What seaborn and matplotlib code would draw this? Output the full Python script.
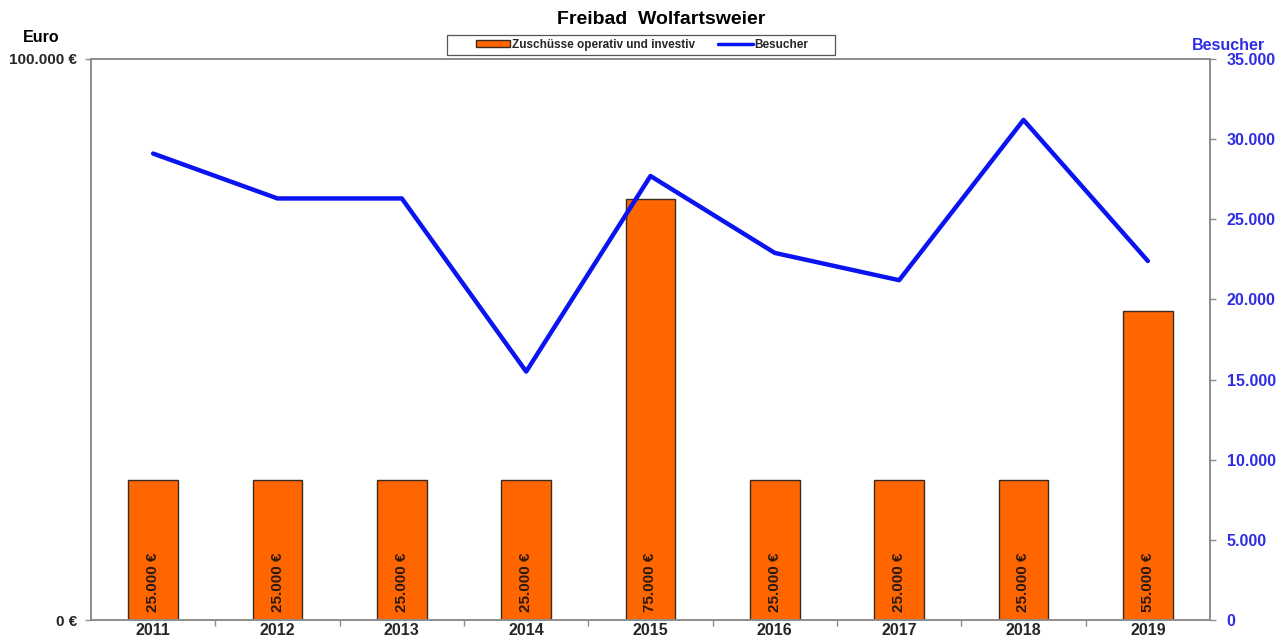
import matplotlib
matplotlib.use("Agg")
import matplotlib.pyplot as plt
import seaborn as sns
import numpy as np
import pandas as pd
from matplotlib.ticker import FixedLocator, FuncFormatter
from matplotlib.lines import Line2D
from matplotlib.patches import Patch, Rectangle

years = ["2011", "2012", "2013", "2014", "2015", "2016", "2017", "2018", "2019"]
zuschuesse = [25000, 25000, 25000, 25000, 75000, 25000, 25000, 25000, 55000]
besucher = [29100, 26300, 26300, 15500, 27700, 22900, 21200, 31200, 22400]
left_ticks = [0, 100000]
right_ticks = [0, 5000, 10000, 15000, 20000, 25000, 30000, 35000]

title = "Freibad  Wolfartsweier"
bar_label = "Zuschüsse operativ und investiv"
line_label = "Besucher"

sns.set_theme(style="white")
plt.rcParams['font.family'] = ['Liberation Sans', 'DejaVu Sans']
plt.rcParams['font.weight'] = 'bold'

def de(v):
    return f"{int(v):,}".replace(",", ".")

df = pd.DataFrame({"Jahr": years, "Zuschuss": zuschuesse,
                   "pos": np.arange(len(years)), "Besucher": besucher})

W, H = 1287, 642
fig = plt.figure(figsize=(W / 100, H / 100), dpi=100)
ax = fig.add_axes([91/W, 22/H, (1210-91)/W, (620-59)/H])

bar_col = "#FF6600"
line_col = "#0A14F0"
tick_blue = "#2E2EE6"
spine_col = "#8C8C8C"
fs = 11

sns.barplot(data=df, x="Jahr", y="Zuschuss", ax=ax, color=bar_col,
            width=0.4, edgecolor="#3a2a20", linewidth=1.0, saturation=1)
ax.set_xlim(-0.5, len(years) - 0.5)
ax.set_ylim(0, 100000)
ax.set_xlabel("")
ax.set_ylabel("")
ax.yaxis.set_major_locator(FixedLocator(left_ticks))
ax.yaxis.set_major_formatter(FuncFormatter(lambda v, p: f"{de(v)} €"))
ax.tick_params(axis="y", labelsize=fs, length=4, color=spine_col, width=1, left=True, pad=6)
for lab in ax.get_yticklabels():
    lab.set_fontweight("bold")

ax.xaxis.set_major_locator(FixedLocator(np.arange(len(years) - 1) + 0.5))
ax.xaxis.set_major_formatter(FuncFormatter(lambda v, p: ""))
ax.xaxis.set_minor_locator(FixedLocator(np.arange(len(years))))
ax.xaxis.set_minor_formatter(FuncFormatter(lambda v, p: years[int(round(v))]))
ax.tick_params(axis="x", which="major", length=4, color=spine_col, width=1, bottom=True)
ax.tick_params(axis="x", which="minor", length=0, labelsize=fs + 0.5, pad=2)
for lab in ax.get_xticklabels(minor=True):
    lab.set_fontweight("bold")

for s in ax.spines.values():
    s.set_color(spine_col)
    s.set_linewidth(1.2)

for i, v in enumerate(zuschuesse):
    ax.annotate(f"{de(v)} €", xy=(i, 0), xytext=(0, 6), textcoords="offset points",
                rotation=90, ha="center", va="bottom", fontsize=11,
                fontweight="bold", color="#2a1a10")

ax2 = ax.twinx()
sns.lineplot(data=df, x="pos", y="Besucher", ax=ax2, color=line_col,
             linewidth=3.2, legend=False)
ax2.set_ylim(0, 35000)
ax2.set_xlim(-0.5, len(years) - 0.5)
ax2.set_ylabel("")
ax2.set_xlabel("")
ax2.yaxis.set_major_locator(FixedLocator(right_ticks))
ax2.yaxis.set_major_formatter(FuncFormatter(lambda v, p: de(v)))
ax2.tick_params(axis="y", labelsize=fs + 0.5, labelcolor=tick_blue, length=4,
                color=spine_col, width=1, right=True, pad=8)
for lab in ax2.get_yticklabels():
    lab.set_fontweight("bold")
for s in ax2.spines.values():
    s.set_color(spine_col)
    s.set_linewidth(1.2)

fig.text(661/W, 1 - 20/H, title, ha="center", va="center",
         fontsize=14, fontweight="bold", color="black")
fig.text(41/W, 1 - 37/H, "Euro", ha="center", va="center",
         fontsize=11.5, fontweight="bold", color="black")
fig.text(1228/W, 1 - 45/H, "Besucher", ha="center", va="center",
         fontsize=11.5, fontweight="bold", color=tick_blue)

# legend box
fig.patches.append(Rectangle((447/W, 1 - 54.5/H), (835-447)/W, 19.5/H,
                             transform=fig.transFigure, facecolor="white",
                             edgecolor="#555555", linewidth=0.9, zorder=5))
handles = [Patch(facecolor=bar_col, edgecolor="#3a2a20", linewidth=1.0),
           Line2D([0], [0], color=line_col, linewidth=2.5)]
leg = fig.legend(handles, [bar_label, line_label], loc="center",
                 bbox_to_anchor=(642/W, 1 - 44.8/H), ncol=2, frameon=False,
                 prop={"weight": "bold", "size": 8.5},
                 handlelength=2.9, handleheight=0.5, handletextpad=0.15,
                 columnspacing=2.0, borderpad=0.0)
leg.set_zorder(6)

fig.savefig("out.png", dpi=100)
